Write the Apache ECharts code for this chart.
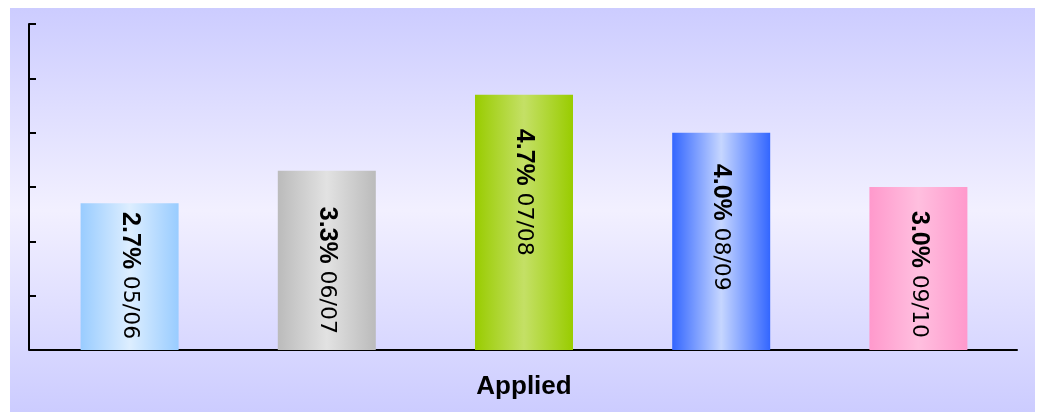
<!DOCTYPE html>
<html>
<head>
<meta charset="utf-8">
<script src="https://cdn.jsdelivr.net/npm/echarts@6/dist/echarts.min.js"></script>
<style>
html,body{margin:0;padding:0;background:#fff;}
#c{width:1038px;height:412px;}
</style>
</head>
<body>
<div id="c"></div>
<script>
const categories = ['05/06', '06/07', '07/08', '08/09', '09/10'];
const values = [2.7, 3.3, 4.7, 4.0, 3.0];
const valueLabels = ['2.7%', '3.3%', '4.7%', '4.0%', '3.0%'];
const axisTitle = 'Applied';

// styling
const barColors = [
  ['#99ccff', '#ddeeff'],
  ['#bbbbbb', '#e2e2e2'],
  ['#99cc00', '#c4e066'],
  ['#3366ff', '#c6d6ff'],
  ['#ff99cc', '#ffbfdf']
];
const labelShift = [-1, 10, -30, -14, 6];

function grad(c) {
  return new echarts.graphic.LinearGradient(0, 0, 1, 0, [
    {offset: 0, color: c[0]},
    {offset: 0.5, color: c[1]},
    {offset: 1, color: c[0]}
  ]);
}

const chart = echarts.init(document.getElementById('c'), null, {renderer: 'canvas'});
chart.setOption({
  animation: false,
  backgroundColor: '#ffffff',
  graphic: [{
    type: 'rect', z: -10, silent: true,
    shape: {x: 10, y: 8, width: 1025, height: 404},
    style: {fill: new echarts.graphic.LinearGradient(0, 0, 0, 1, [
      {offset: 0, color: '#ccccff'},
      {offset: 0.5, color: '#f2f0ff'},
      {offset: 1, color: '#ccccff'}
    ])}
  }],
  grid: {left: 31, right: 21, top: 24, bottom: 62, containLabel: false},
  xAxis: {
    type: 'category',
    data: categories,
    axisLine: {lineStyle: {color: '#000', width: 2}},
    axisTick: {show: false},
    axisLabel: {show: false},
    name: axisTitle,
    nameLocation: 'middle',
    nameGap: 37,
    nameTextStyle: {fontFamily: 'Liberation Sans, Arial, sans-serif', fontSize: 26, fontWeight: 'bold', color: '#000', verticalAlign: 'middle'}
  },
  yAxis: {
    type: 'value', min: 0, max: 6, interval: 1,
    offset: 2,
    axisLine: {show: true, lineStyle: {color: '#000', width: 2}},
    axisTick: {show: true, inside: true, length: 7, lineStyle: {color: '#000', width: 2}},
    axisLabel: {show: false},
    splitLine: {show: false}
  },
  series: [{
    type: 'bar',
    barWidth: 98,
    data: values.map((v, i) => ({
      value: v,
      itemStyle: {color: grad(barColors[i])},
      label: {offset: [labelShift[i], 0]}
    })),
    label: {
      show: true,
      position: 'inside',
      rotate: -90,
      align: 'center',
      verticalAlign: 'middle',
      formatter: p => '{a|' + valueLabels[p.dataIndex] + '}  {b|' + categories[p.dataIndex] + '}',
      rich: {
        a: {fontFamily: 'Liberation Sans, Arial, sans-serif', fontSize: 25, fontWeight: 'bold', color: '#000'},
        b: {fontFamily: 'DejaVu Sans, sans-serif', fontSize: 22, color: '#000'}
      }
    }
  }]
});
</script>
</body>
</html>
